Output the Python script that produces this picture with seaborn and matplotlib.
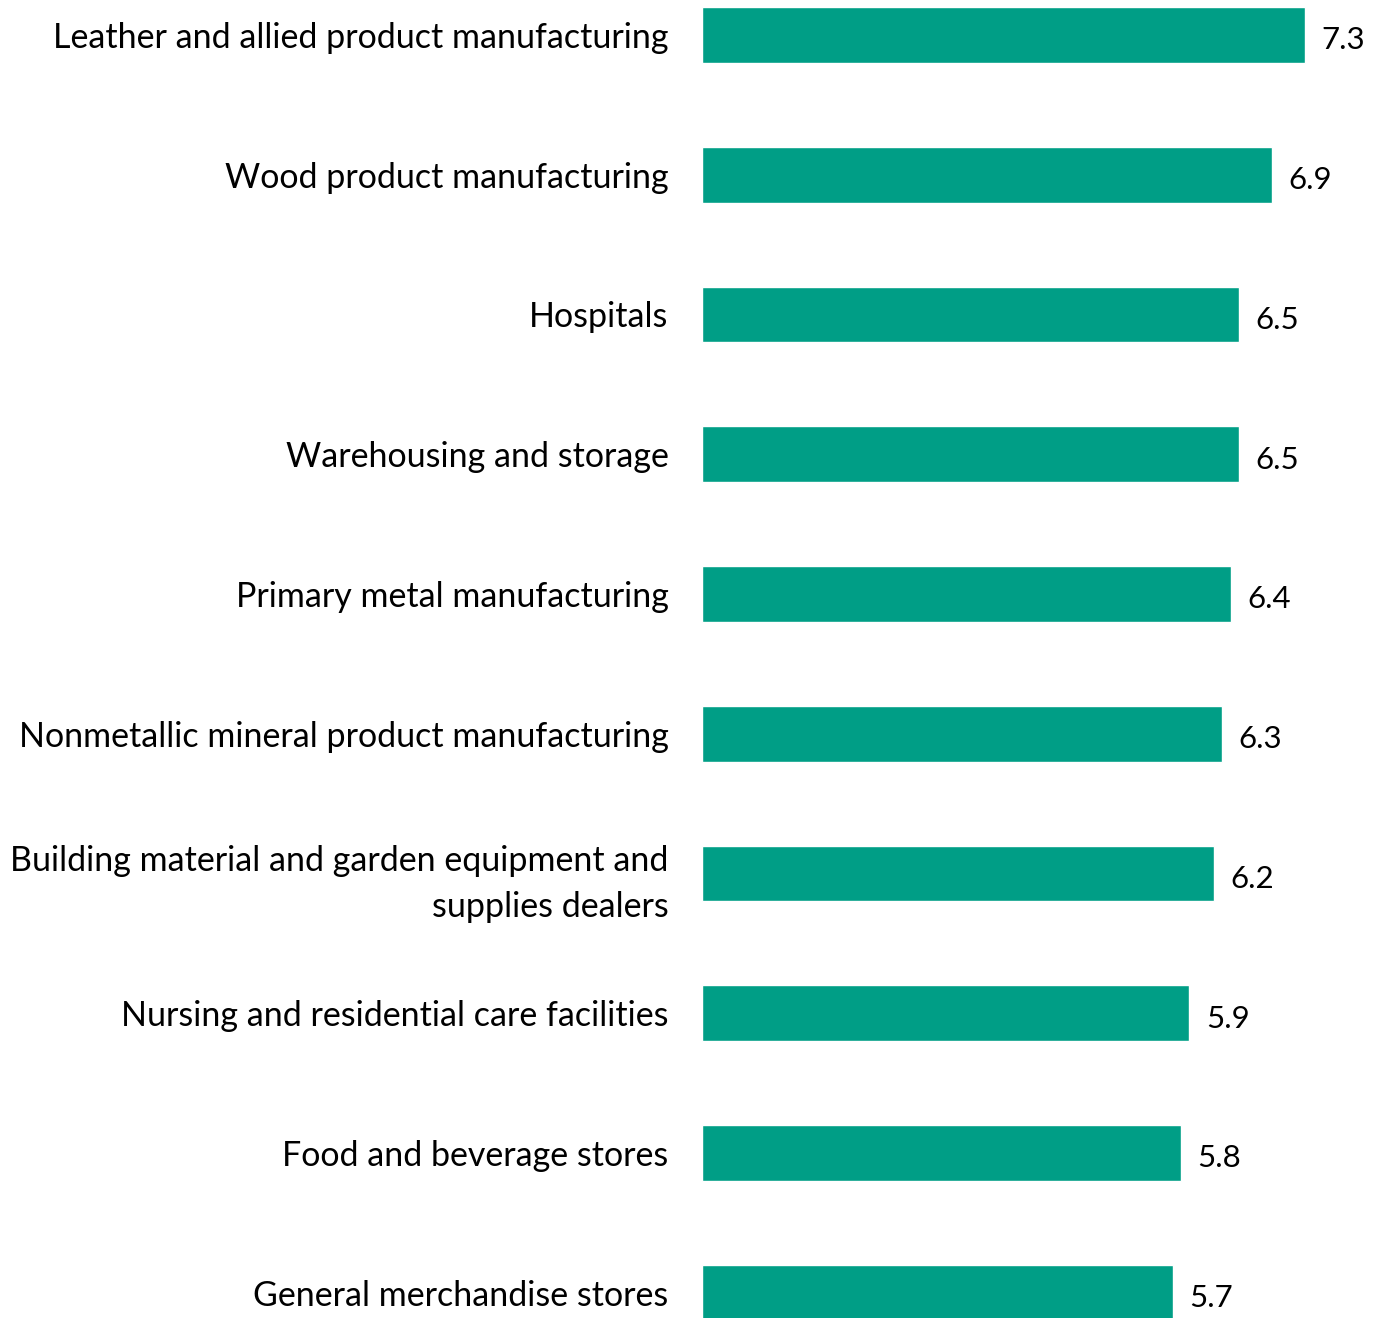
import matplotlib
matplotlib.use("Agg")
import matplotlib.pyplot as plt
import seaborn as sns
import pandas as pd

industries = [
    "Leather and allied product manufacturing",
    "Wood product manufacturing",
    "Hospitals",
    "Warehousing and storage",
    "Primary metal manufacturing",
    "Nonmetallic mineral product manufacturing",
    "Building material and garden equipment and\nsupplies dealers",
    "Nursing and residential care facilities",
    "Food and beverage stores",
    "General merchandise stores",
]
rates = [7.3, 6.9, 6.5, 6.5, 6.4, 6.3, 6.2, 5.9, 5.8, 5.7]

df = pd.DataFrame({"industry": industries, "rate": rates})

sns.set_theme(style="white")
plt.rcParams["font.family"] = ["Lato", "DejaVu Sans"]

fig = plt.figure(figsize=(13.8, 13.18), dpi=100)
ax = fig.add_axes([702 / 1380, 0.0, 1 - 702 / 1380, 1.0])

bar_color = "#009E86"
sns.barplot(data=df, x="rate", y="industry", orient="h", color=bar_color,
            width=0.4, saturation=1, ax=ax)

ax.set_xlim(0, 8.21)
ax.set_ylim(9.18, -0.25)

for i, v in enumerate(rates):
    ax.text(v + 0.2, i + 0.02, f"{v:.1f}", va="center_baseline", ha="left",
            fontsize=22.5, color="black")

ax.set_xlabel("")
ax.set_ylabel("")
ax.set_xticks([])
ax.tick_params(axis="y", length=0, pad=24, labelsize=24.5, labelcolor="black")
for lbl in ax.get_yticklabels():
    lbl.set_multialignment("right")
    if "\n" in lbl.get_text():
        lbl.set_linespacing(1.55)
for s in ax.spines.values():
    s.set_visible(False)

fig.savefig("out.png", dpi=100)
